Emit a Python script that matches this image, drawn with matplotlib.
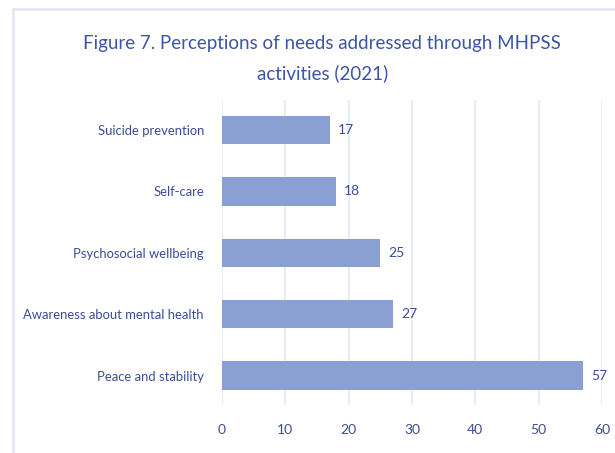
import matplotlib
matplotlib.use("Agg")
import matplotlib.pyplot as plt
from matplotlib.patches import Rectangle

categories = ["Peace and stability", "Awareness about mental health",
              "Psychosocial wellbeing", "Self-care", "Suicide prevention"]
values = [57, 27, 25, 18, 17]
xticks = [0, 10, 20, 30, 40, 50, 60]

plt.rcParams['font.family'] = ['Lato', 'DejaVu Sans']
text_color = "#3b4c96"
bar_color = "#8a9fd2"
grid_color = "#e8ecf6"

fig = plt.figure(figsize=(6.15, 4.53), dpi=100)
fig.patch.set_facecolor("white")
# outer frame
fig.add_artist(Rectangle((13/615, -0.1), 1.0, 1 - 9/453 + 0.1, transform=fig.transFigure,
                         fill=False, edgecolor="#e3e7f2", linewidth=2.0))

ax = fig.add_axes([222/615, 48/453, 380/615, 305/453])
ax.barh(range(len(categories)), values, height=0.46, color=bar_color, zorder=3)
for i, v in enumerate(values):
    ax.text(v + 1.3, i, str(v), va="center", ha="left", fontsize=10, color=text_color)

ax.set_xlim(0, 60)
ax.set_ylim(-0.48, 4.49)
ax.set_yticks(range(len(categories)))
ax.set_yticklabels(categories, fontsize=9.4, color=text_color)
ax.set_xticks(xticks)
ax.set_xticklabels([str(t) for t in xticks], fontsize=10, color=text_color)
ax.tick_params(axis="both", length=0)
ax.tick_params(axis="y", pad=13)
ax.tick_params(axis="x", pad=14)
for s in ax.spines.values():
    s.set_visible(False)
ax.grid(axis="x", color=grid_color, linewidth=1.5, zorder=0)
ax.set_axisbelow(True)

fig.text(0.524, 0.903, "Figure 7. Perceptions of needs addressed through MHPSS",
         ha="center", va="center", fontsize=13.5, color="#3d55a5")
fig.text(0.524, 0.838, "activities (2021)",
         ha="center", va="center", fontsize=13.5, color="#3d55a5")

fig.savefig("out.png", dpi=100)
